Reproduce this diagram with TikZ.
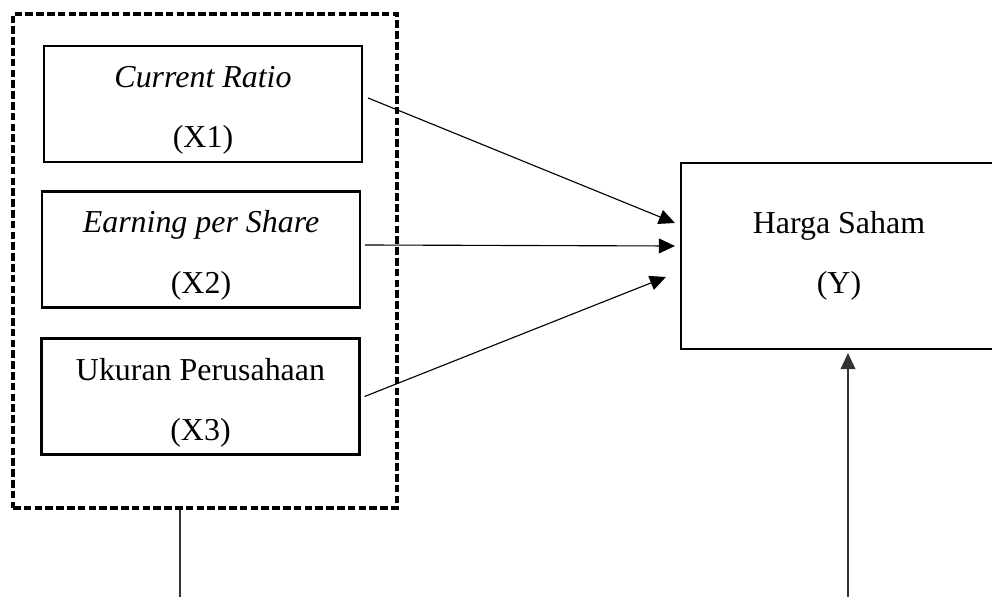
\documentclass[tikz,border=0pt]{standalone}
\usepackage{fontspec}
\setmainfont{Liberation Serif}
\usetikzlibrary{arrows.meta,calc}
\def\lowtext{\rule{0pt}{1.06em}}

\tikzset{
  varbox/.style={draw, line width=1.5pt, minimum width=7.95cm, minimum height=2.9cm,
    align=center, inner sep=0pt, font=\fontsize{22.7}{42.7}\selectfont},
  groupbox/.style={draw, line width=2.5pt, dash pattern=on 0.19cm off 0.08cm,
    minimum width=9.6cm, minimum height=12.35cm, inner sep=0pt},
  link/.style={line width=0.8pt, -{Triangle[length=0.4cm,width=0.37cm]}},
  stem/.style={line width=0.8pt, color=black!80},
}

\begin{document}
\begin{tikzpicture}[x=0.025cm, y=-0.025cm]
	%%%%% frame %%%%%
	\useasboundingbox (0, 0) rectangle (992, 597);
	\clip (0, 0) rectangle (992, 597);
	
	\node[groupbox] (grp) at (205, 261) {};
	
	\node[varbox] (x1) at (203, 104) {\lowtext\textit{Current Ratio}\\(X1)};
	\node[varbox] (x2) at (201, 249.5) {\lowtext\textit{Earning per Share}\\(X2)};
	\node[varbox] (x3) at (200.5, 396.5) {\lowtext Ukuran Perusahaan\\(X3)};
	
	\node[varbox, minimum width=7.9cm, minimum height=4.65cm] (hy) at (839, 256) {Harga Saham\\(Y)};
	
	%%%%% arrows %%%%%
	\draw[link] ($(x1.east)+(5, -6)$) -- ($(hy.west)+(-5, -33)$);
	\draw[link] ($(x2.east)+(4, -4.5)$) -- ($(hy.west)+(-5, -10)$);
	\draw[link] ($(x3.east)+(4, 0)$) -- ($(hy.west)+(-14, 21)$);
	
	\coordinate (lb) at (180, 597);
	\coordinate (rb) at (848, 597);
	\draw[stem] (lb |- grp.south) -- (lb);
	\draw[stem, link] (rb) -- ($(rb |- hy.south)+(0, 3)$);
\end{tikzpicture}
\end{document}
